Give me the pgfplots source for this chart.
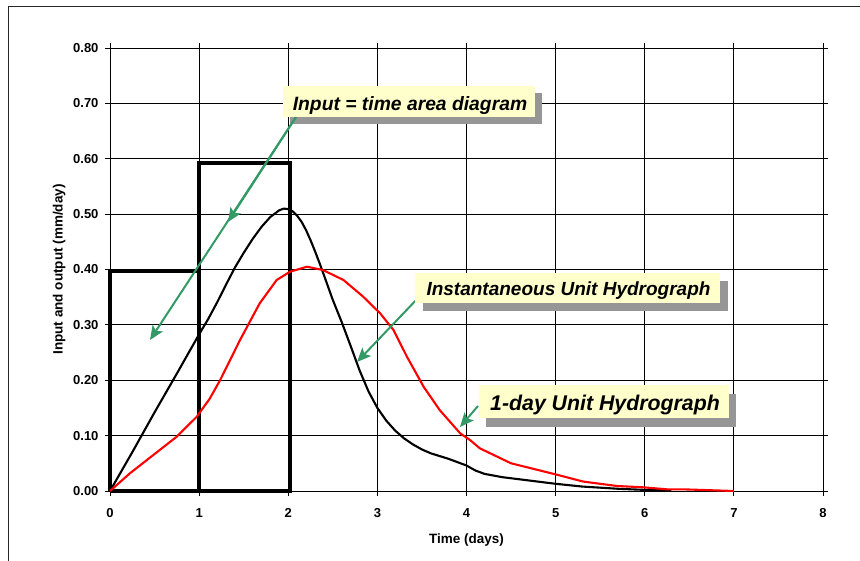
\documentclass[border=0pt]{standalone}
\usepackage{fontspec}
\setmainfont{Liberation Sans}
\usepackage{pgfplots}
\pgfplotsset{compat=1.18}
\usetikzlibrary{arrows.meta}
\definecolor{callout}{RGB}{255,255,204}
\definecolor{shadowgray}{RGB}{150,150,150}
\definecolor{arrowgreen}{RGB}{51,153,102}

\pgfplotstableread{
x y
0 0
0.25 0.07
0.5 0.142
0.75 0.212
1.0 0.283
1.1 0.31
1.2 0.34
1.3 0.372
1.4 0.403
1.5 0.43
1.6 0.455
1.7 0.477
1.8 0.495
1.9 0.507
1.95 0.51
2.0 0.509
2.05 0.505
2.1 0.497
2.15 0.486
2.2 0.471
2.25 0.453
2.3 0.433
2.35 0.412
2.4 0.39
2.5 0.345
2.6 0.305
2.7 0.262
2.8 0.218
2.9 0.18
3.0 0.15
3.1 0.127
3.2 0.109
3.3 0.095
3.4 0.084
3.5 0.075
3.6 0.068
3.8 0.058
4.0 0.046
4.1 0.037
4.2 0.031
4.4 0.025
4.7 0.019
5.0 0.013
5.3 0.008
5.7 0.004
6.0 0.002
6.3 0.001
}\iuh

\pgfplotstableread{
x y
0 0
0.224 0.032
0.486 0.065
0.748 0.098
0.973 0.134
1.12 0.167
1.235 0.2
1.46 0.273
1.68 0.339
1.87 0.381
2.02 0.396
2.21 0.405
2.39 0.399
2.62 0.381
2.84 0.351
3.03 0.321
3.18 0.291
3.33 0.243
3.52 0.188
3.70 0.146
3.93 0.104
4.04 0.092
4.15 0.077
4.5 0.05
5.0 0.03
5.31 0.017
5.69 0.009
5.98 0.0067
6.25 0.003
6.43 0.003
7.0 0.0
}\oneday

\begin{document}
\begin{tikzpicture}[x=1pt,y=1pt]
\path[use as bounding box] (0,0) rectangle (860,561);
\draw[line width=1pt, black!85] (8,-5) -- (8,554) -- (870,554);
\begin{axis}[at={(110pt,70pt)}, anchor=south west, scale only axis,
  width=713pt, height=443pt,
  xmin=0, xmax=8, ymin=0, ymax=0.8,
  xtick={0,1,2,3,4,5,6,7,8},
  ytick={0,0.1,0.2,0.3,0.4,0.5,0.6,0.7,0.8},
  grid=major,
  major grid style={black, line width=0.8pt},
  axis line style={black, line width=0.8pt},
  tick style={black, line width=0.8pt},
  tick align=outside, major tick length=5pt,
  /pgf/number format/assume math mode=true,
  ticklabel style={font=\fontsize{13}{15}\selectfont\bfseries},
  yticklabel style={xshift=-3pt, /pgf/number format/.cd, fixed, fixed zerofill, precision=2},
  xticklabel style={yshift=-9pt, /pgf/number format/.cd, fixed, precision=0},
  xlabel={Time (days)}, ylabel={Input and output (mm/day)},
  label style={font=\fontsize{13.5}{15}\selectfont\bfseries},
  xlabel style={at={(axis description cs:0.5,-0.1106)}, anchor=center},
  ylabel style={at={(axis description cs:-0.0715,0.5)}, anchor=center},
  clip=false,
]
\addplot[black, line width=3.8pt, line join=miter] coordinates {(0,0) (0,0.397) (1,0.397) (1,0)};
\addplot[black, line width=3.8pt, line join=miter] coordinates {(1,0) (1,0.593) (2.02,0.593) (2.02,0) (0,0)};
\addplot[black, line width=2.1pt, line join=round] table[x=x,y=y] {\iuh};
\addplot[red, line width=2.1pt, line join=round] table[x=x,y=y] {\oneday};
\end{axis}
% shadows
\fill[shadowgray] (290,437) rectangle (542,468);
\fill[shadowgray] (423,249.7) rectangle (728,280.3);
\fill[shadowgray] (486,134) rectangle (736,167);
% arrows
\begin{scope}[arrowgreen, line width=2pt, -{Stealth[length=14pt,width=12pt,inset=3pt]}]
\draw (296,444) -- (228,339);
\draw (296,444) -- (150,221);
\draw (420,265) -- (357,199);
\draw (478,155) -- (460,134);
\end{scope}
% boxes
\fill[callout] (283,444) rectangle (535,475);
\fill[callout] (415,257.7) rectangle (720,288.3);
\fill[callout] (479,143) rectangle (729,176);
\node[anchor=base, inner sep=0pt, font=\fontsize{19.3}{22}\selectfont\bfseries\itshape] at (410,450.3) {Input = time area diagram};
\node[anchor=base, inner sep=0pt, font=\fontsize{19}{22}\selectfont\bfseries\itshape] at (568.5,265) {Instantaneous Unit Hydrograph};
\node[anchor=base, inner sep=0pt, font=\fontsize{21.3}{24}\selectfont\bfseries\itshape] at (605,150.3) {1-day Unit Hydrograph};
\end{tikzpicture}
\end{document}
